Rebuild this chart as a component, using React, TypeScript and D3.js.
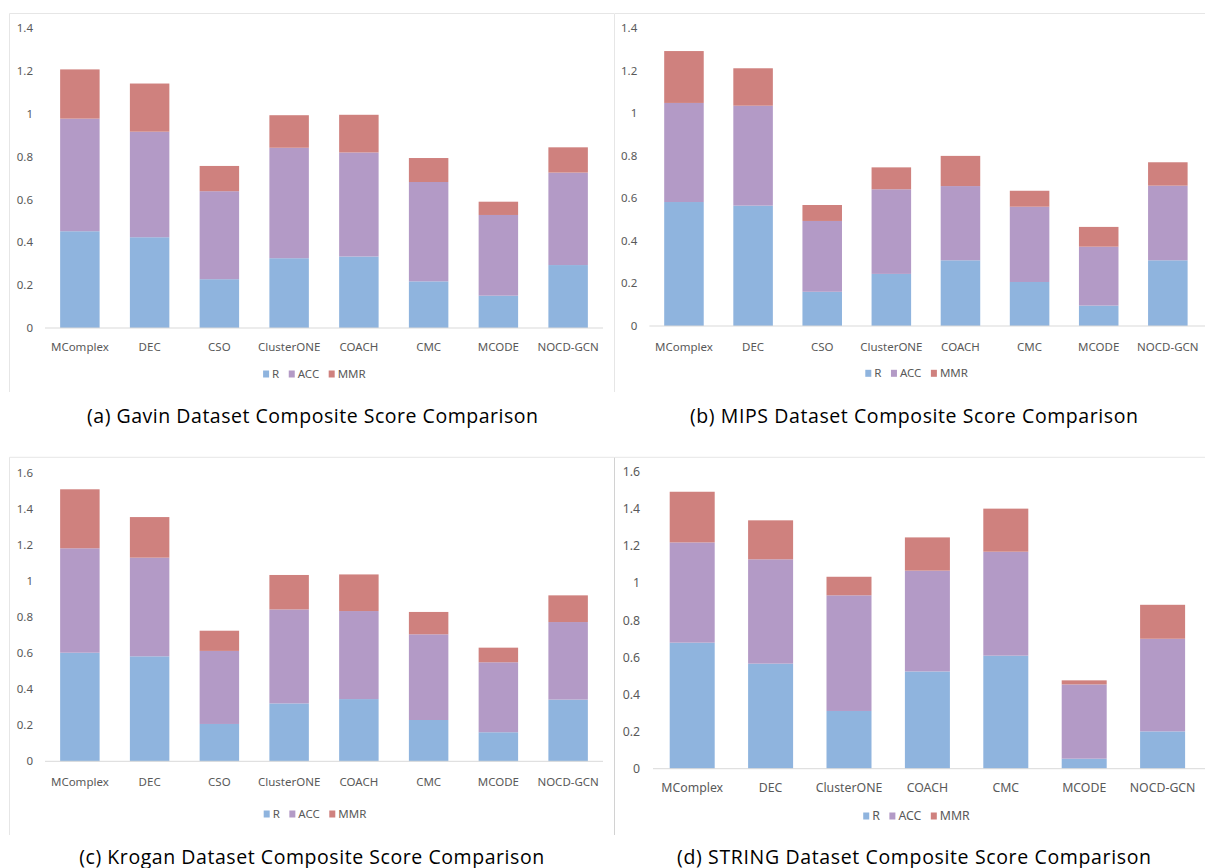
import React, { useEffect, useRef } from "react";
import * as d3 from "d3";

// Method names along the x axis
const methodsEight = ["MComplex", "DEC", "CSO", "ClusterONE", "COACH", "CMC", "MCODE", "NOCD-GCN"];
const methodsString = ["MComplex", "DEC", "ClusterONE", "COACH", "CMC", "MCODE", "NOCD-GCN"];

// Stacked components of the composite score
const seriesNames = ["R", "ACC", "MMR"];
const seriesColors = ["#8FB4DE", "#B39AC6", "#CF817E"];

// Gavin dataset
const gavinR = [0.452, 0.424, 0.228, 0.326, 0.334, 0.218, 0.151, 0.294];
const gavinACC = [0.526, 0.493, 0.411, 0.516, 0.486, 0.464, 0.377, 0.432];
const gavinMMR = [0.23, 0.225, 0.118, 0.152, 0.176, 0.112, 0.062, 0.118];

// MIPS dataset
const mipsR = [0.583, 0.566, 0.161, 0.245, 0.309, 0.207, 0.096, 0.309];
const mipsACC = [0.466, 0.47, 0.333, 0.398, 0.349, 0.354, 0.277, 0.351];
const mipsMMR = [0.244, 0.176, 0.075, 0.103, 0.142, 0.075, 0.093, 0.11];

// Krogan dataset
const kroganR = [0.602, 0.582, 0.207, 0.321, 0.345, 0.229, 0.161, 0.342];
const kroganACC = [0.579, 0.547, 0.405, 0.521, 0.488, 0.475, 0.388, 0.43];
const kroganMMR = [0.327, 0.225, 0.112, 0.191, 0.203, 0.124, 0.081, 0.148];

// STRING dataset
const stringR = [0.679, 0.566, 0.311, 0.524, 0.609, 0.054, 0.201];
const stringACC = [0.54, 0.562, 0.623, 0.543, 0.56, 0.4, 0.499];
const stringMMR = [0.273, 0.21, 0.1, 0.179, 0.232, 0.022, 0.183];

// Axis tick values
const ticksTo14 = [0, 0.2, 0.4, 0.6, 0.8, 1, 1.2, 1.4];
const ticksTo16 = [0, 0.2, 0.4, 0.6, 0.8, 1, 1.2, 1.4, 1.6];

const captions = [
  "(a) Gavin Dataset Composite Score Comparison",
  "(b) MIPS Dataset Composite Score Comparison",
  "(c) Krogan Dataset Composite Score Comparison",
  "(d) STRING Dataset Composite Score Comparison",
];

type Layout = {
  frame: [number, number, number, number];
  frameColor: string;
  yRange: [number, number];
  xRange: [number, number];
  axisEnd: number;
  padInner: number;
  tickX: number;
  labelY: number;
  legendY: number;
  legendCx: number;
  captionX: number;
  captionY: number;
  captionW: number;
  fontSize: number;
};

const panels: {
  methods: string[];
  series: number[][];
  yMax: number;
  ticks: number[];
  caption: string;
  layout: Layout;
}[] = [
  {
    methods: methodsEight,
    series: [gavinR, gavinACC, gavinMMR],
    yMax: 1.4,
    ticks: ticksTo14,
    caption: captions[0],
    layout: {
      frame: [9.5, 614, 13.5, 392], frameColor: "#e6e6e6",
      yRange: [328, 28.3], xRange: [45, 603], axisEnd: 603, padInner: 0.434,
      tickX: 33, labelY: 346.7, legendY: 374, legendCx: 314.4,
      captionX: 312.5, captionY: 422.5, captionW: 451, fontSize: 11.5,
    },
  },
  {
    methods: methodsEight,
    series: [mipsR, mipsACC, mipsMMR],
    yMax: 1.4,
    ticks: ticksTo14,
    caption: captions[1],
    layout: {
      frame: [614.5, 1205, 13.5, 392], frameColor: "#e6e6e6",
      yRange: [326, 28.3], xRange: [649.4, 1202.4], axisEnd: 1205, padInner: 0.428,
      tickX: 637.3, labelY: 346.7, legendY: 373.3, legendCx: 916.6,
      captionX: 914, captionY: 422.5, captionW: 448, fontSize: 11.5,
    },
  },
  {
    methods: methodsEight,
    series: [kroganR, kroganACC, kroganMMR],
    yMax: 1.6,
    ticks: ticksTo16,
    caption: captions[2],
    layout: {
      frame: [9.5, 614, 457.3, 835], frameColor: "#e6e6e6",
      yRange: [761.3, 472.7], xRange: [45, 603], axisEnd: 603, padInner: 0.434,
      tickX: 33, labelY: 782.3, legendY: 814, legendCx: 315,
      captionX: 311.7, captionY: 863.5, captionW: 465, fontSize: 11.5,
    },
  },
  {
    methods: methodsString,
    series: [stringR, stringACC, stringMMR],
    yMax: 1.6,
    ticks: ticksTo16,
    caption: captions[3],
    layout: {
      frame: [614.5, 1205, 457.3, 835], frameColor: "#d2d2d2",
      yRange: [768.7, 471.7], xRange: [653, 1201.8], axisEnd: 1205, padInner: 0.426,
      tickX: 640, labelY: 787.7, legendY: 816, legendCx: 916.5,
      captionX: 914, captionY: 863.5, captionW: 474, fontSize: 12.3,
    },
  },
];

const AXIS_FONT = "'Noto Sans', Roboto, sans-serif";
const CAPTION_FONT = "'Open Sans', Lato, sans-serif";
const TEXT_GREY = "#595959";

export default function App() {
  const ref = useRef<SVGSVGElement | null>(null);

  useEffect(() => {
    const svg = d3.select(ref.current);
    svg.selectAll("*").remove();

    panels.forEach((p) => {
      const L = p.layout;
      const g = svg.append("g");

      // chart frame (left and top edges)
      g.append("line")
        .attr("x1", L.frame[0]).attr("x2", L.frame[0])
        .attr("y1", L.frame[2]).attr("y2", L.frame[3])
        .attr("stroke", L.frameColor).attr("stroke-width", 1);
      g.append("line")
        .attr("x1", L.frame[0]).attr("x2", L.frame[1])
        .attr("y1", L.frame[2]).attr("y2", L.frame[2])
        .attr("stroke", "#e6e6e6").attr("stroke-width", 1);

      const x = d3.scaleBand<string>()
        .domain(p.methods)
        .range(L.xRange)
        .paddingInner(L.padInner)
        .paddingOuter(L.padInner / 2);
      const y = d3.scaleLinear().domain([0, p.yMax]).range(L.yRange);

      // y tick labels
      g.selectAll("text.ytick")
        .data(p.ticks)
        .join("text")
        .attr("class", "ytick")
        .attr("x", L.tickX)
        .attr("y", (d) => y(d))
        .attr("dy", "0.35em")
        .attr("text-anchor", "end")
        .attr("font-family", AXIS_FONT)
        .attr("font-size", L.fontSize)
        .attr("fill", TEXT_GREY)
        .text((d) => d3.format("~g")(d));

      // stacked bars
      const rows = p.methods.map((m, i) => {
        const row: Record<string, number | string> = { method: m };
        seriesNames.forEach((s, k) => (row[s] = p.series[k][i]));
        return row;
      });
      const stacked = d3.stack<Record<string, number | string>>().keys(seriesNames)(rows as any);
      stacked.forEach((layer, k) => {
        g.append("g")
          .attr("fill", seriesColors[k])
          .selectAll("rect")
          .data(layer)
          .join("rect")
          .attr("x", (d) => x(d.data.method as string)!)
          .attr("width", x.bandwidth())
          .attr("y", (d) => y(d[1]))
          .attr("height", (d) => y(d[0]) - y(d[1]));
      });

      // baseline
      g.append("line")
        .attr("x1", L.xRange[0]).attr("x2", L.axisEnd)
        .attr("y1", y(0)).attr("y2", y(0))
        .attr("stroke", "#d9d9d9").attr("stroke-width", 1);

      // category labels
      g.selectAll("text.xlab")
        .data(p.methods)
        .join("text")
        .attr("class", "xlab")
        .attr("x", (d) => x(d)! + x.bandwidth() / 2)
        .attr("y", L.labelY)
        .attr("dy", "0.35em")
        .attr("text-anchor", "middle")
        .attr("font-family", AXIS_FONT)
        .attr("font-size", L.fontSize)
        .attr("fill", TEXT_GREY)
        .text((d) => d);

      // legend, laid out from measured text widths and centred
      const leg = g.append("g");
      let cursor = 0;
      const markerW = 6;
      const markerH = 7;
      seriesNames.forEach((s, k) => {
        leg.append("rect")
          .attr("x", cursor)
          .attr("y", L.legendY - markerH / 2)
          .attr("width", markerW)
          .attr("height", markerH)
          .attr("fill", seriesColors[k]);
        const t = leg.append("text")
          .attr("x", cursor + markerW + 3)
          .attr("y", L.legendY)
          .attr("dy", "0.35em")
          .attr("font-family", AXIS_FONT)
          .attr("font-size", L.fontSize)
          .attr("fill", TEXT_GREY)
          .text(s);
        const w = (t.node() as SVGTextElement).getComputedTextLength();
        cursor += markerW + 3 + w + (k < seriesNames.length - 1 ? 9.5 : 0);
      });
      leg.attr("transform", `translate(${L.legendCx - cursor / 2},0)`);

      // caption
      svg.append("text")
        .attr("x", L.captionX)
        .attr("y", L.captionY)
        .attr("text-anchor", "middle")
        .attr("font-family", CAPTION_FONT)
        .attr("font-size", 19.5)
        .attr("textLength", L.captionW)
        .attr("lengthAdjust", "spacing")
        .attr("fill", "#000")
        .text(p.caption);
    });
  }, []);

  return (
    <svg
      ref={ref}
      width={1205}
      height={868}
      style={{ position: "absolute", left: 0, top: 0, background: "#fff" }}
    />
  );
}
